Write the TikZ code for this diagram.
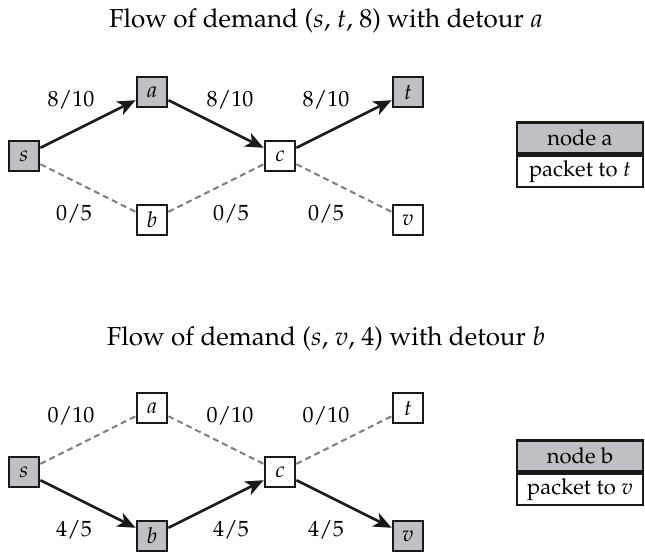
\documentclass[tikz,border=0pt]{standalone}
\usepackage[T1]{fontenc}
\usepackage{mathpazo}
\usetikzlibrary{arrows.meta}
\definecolor{boxgray}{RGB}{191,192,196}
\definecolor{idlegray}{RGB}{125,125,125}
\tikzset{
  vtx/.style={draw=black!90, line width=1.4pt, minimum size=15pt, inner sep=0pt,
    font=\fontsize{11}{13}\selectfont},
  busy/.style={vtx, fill=boxgray},
  idle/.style={vtx, fill=white},
  flowarc/.style={line width=1.3pt, black!90, -{Stealth[length=9pt,width=7.5pt,inset=2.5pt]}},
  idlearc/.style={line width=1pt, idlegray, dash pattern=on 3pt off 2pt},
  flowlbl/.style={anchor=base, inner sep=0pt, font=\fontsize{11}{13}\selectfont},
  heading/.style={anchor=base, inner sep=0pt, font=\fontsize{13}{15}\selectfont},
  tabcell/.style={draw=black!90, line width=1.1pt, minimum width=63pt, minimum height=15.5pt,
    inner sep=0pt, font=\fontsize{11}{13}\selectfont},
  tabhead/.style={tabcell, fill=boxgray},
  tabbody/.style={tabcell, fill=white, anchor=north},
}
\begin{document}
\begin{tikzpicture}[x=0.5pt,y=-0.5pt]
\useasboundingbox (0,0) rectangle (645,554);

% ---- demand (s,t,8), detour a ----
\node[heading] (title1) at (326,27) {Flow of demand ($s$, $t$, 8) with detour $a$};
\node[busy] (s1) at (24,156) {$s$};
\node[busy] (a1) at (152,92) {$a$};
\node[idle] (b1) at (152,220) {$b$};
\node[idle] (c1) at (280,156) {$c$};
\node[busy] (t1) at (408,92) {$t$};
\node[idle] (v1) at (408,220) {$v$};

\draw[flowarc] (s1) -- (a1);
\draw[flowarc] (a1) -- (c1);
\draw[flowarc] (c1) -- (t1);
\draw[idlearc] (s1) -- (b1);
\draw[idlearc] (b1) -- (c1);
\draw[idlearc] (c1) -- (v1);

\node[flowlbl] (lsa1) at (71,106) {$8/10$};
\node[flowlbl] (lac1) at (230,106) {$8/10$};
\node[flowlbl] (lct1) at (326,106) {$8/10$};
\node[flowlbl] (lsb1) at (74,220) {$0/5$};
\node[flowlbl] (lbc1) at (231,220) {$0/5$};
\node[flowlbl] (lcv1) at (326,220) {$0/5$};

\node[tabhead] (ha) at (580,138) {node a};
\node[tabbody] (ra) at (ha.south) {packet to $t$};

% ---- demand (s,v,4), detour b ----
\node[heading] (title2) at (326,345) {Flow of demand ($s$, $v$, 4) with detour $b$};
\node[busy] (s2) at (24,472) {$s$};
\node[idle] (a2) at (152,408) {$a$};
\node[busy] (b2) at (152,536) {$b$};
\node[idle] (c2) at (280,472) {$c$};
\node[idle] (t2) at (408,408) {$t$};
\node[busy] (v2) at (408,536) {$v$};

\draw[idlearc] (s2) -- (a2);
\draw[idlearc] (a2) -- (c2);
\draw[idlearc] (c2) -- (t2);
\draw[flowarc] (s2) -- (b2);
\draw[flowarc] (b2) -- (c2);
\draw[flowarc] (c2) -- (v2);

\node[flowlbl] (lsa2) at (71,422) {$0/10$};
\node[flowlbl] (lac2) at (230,422) {$0/10$};
\node[flowlbl] (lct2) at (326,422) {$0/10$};
\node[flowlbl] (lsb2) at (74,536) {$4/5$};
\node[flowlbl] (lbc2) at (231,536) {$4/5$};
\node[flowlbl] (lcv2) at (326,536) {$4/5$};

\node[tabhead] (hb) at (580,456) {node b};
\node[tabbody] (rb) at (hb.south) {packet to $v$};
\end{tikzpicture}
\end{document}
